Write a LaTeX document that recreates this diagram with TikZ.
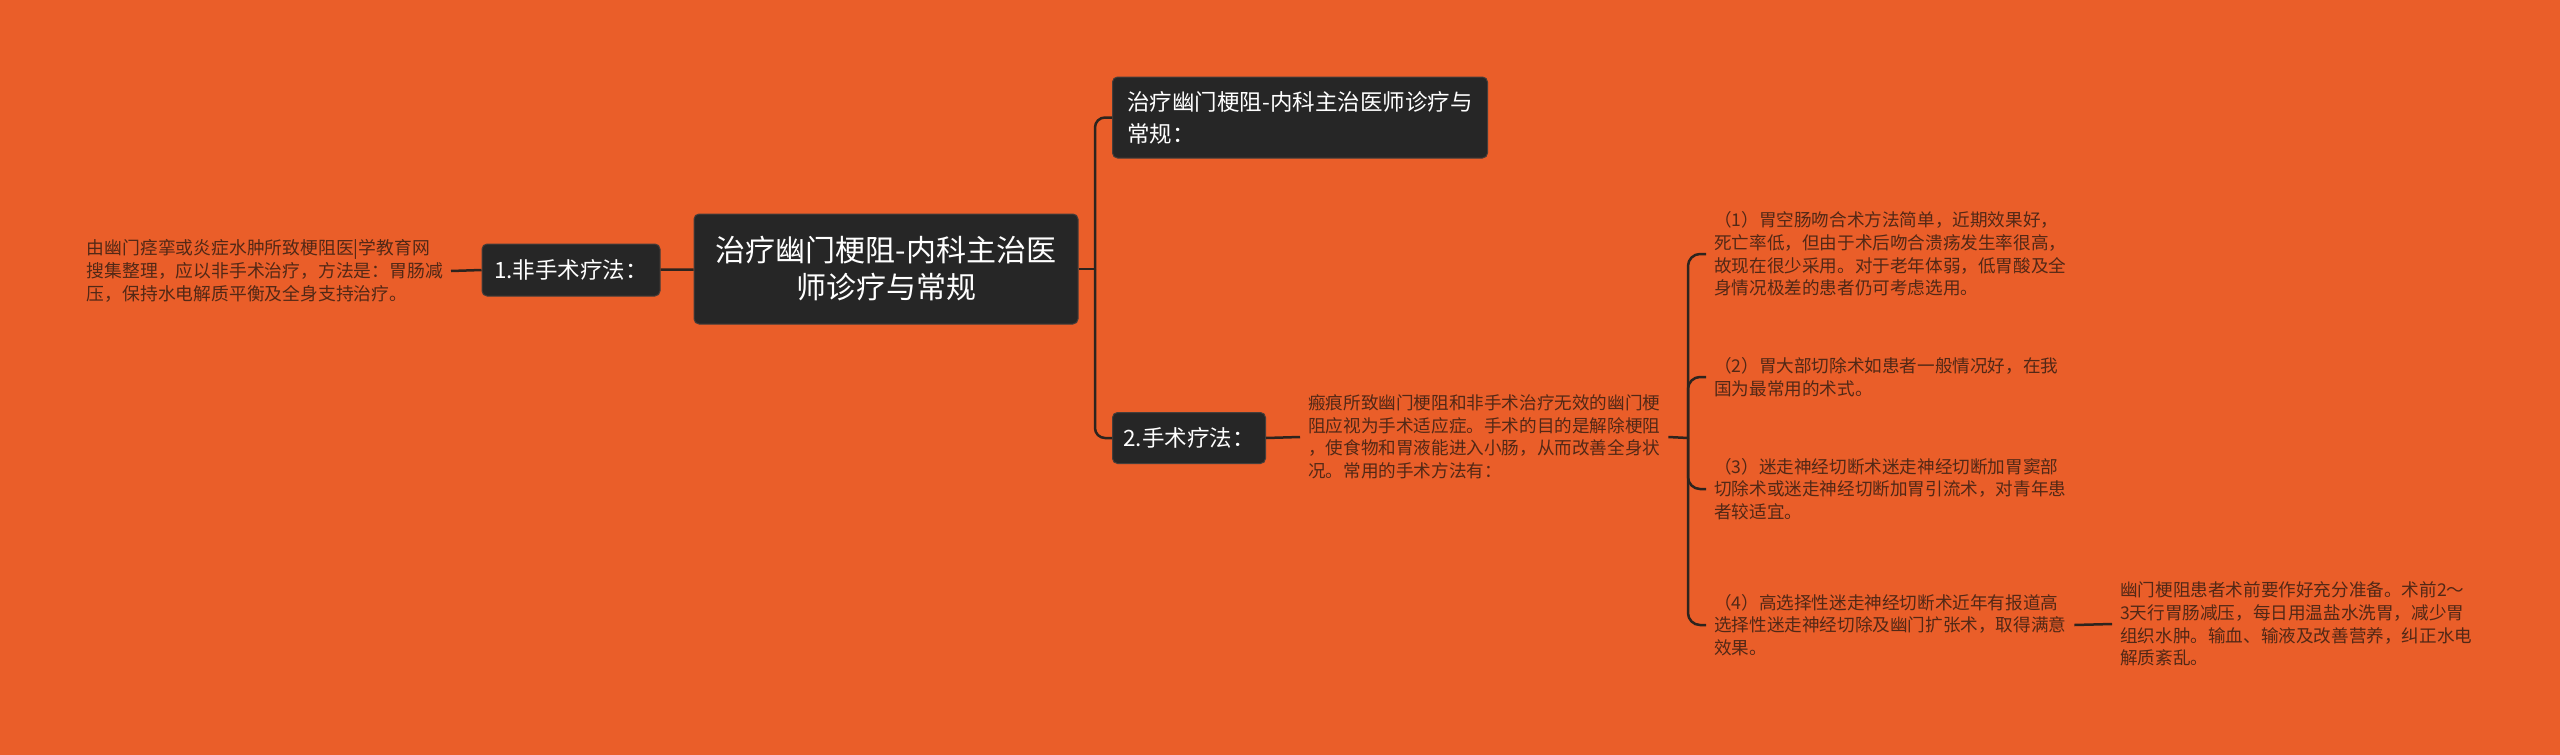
\documentclass[tikz,border=0pt]{standalone}
\usepackage{fontspec}
\setmainfont{Noto Sans CJK SC}
\usepackage{tikz}
\definecolor{bgorange}{RGB}{234,94,41}
\definecolor{boxdark}{RGB}{38,38,38}
\definecolor{boxedge}{RGB}{70,62,58}
\definecolor{linedark}{RGB}{45,36,30}
\definecolor{textbrown}{RGB}{82,40,22}

\begin{document}
\begin{tikzpicture}[x=1pt, y=-1pt,
    box/.style={fill=boxdark, draw=boxedge, line width=1pt, rounded corners=5pt, text=white, inner sep=0pt},
    note/.style={text=textbrown, align=left, inner xsep=8pt, inner ysep=0pt, font=\fontsize{17.6}{22.6}\selectfont},
    link/.style={draw=linedark, line width=2.5pt}]
            \fill[bgorange] (0, 0) rectangle (2560, 755);
            \useasboundingbox (0, 0) rectangle (2560, 755);
            \draw (886, 269) node[box, minimum width=384pt, minimum height=110pt, align=center, font=\fontsize{30}{37}\selectfont](root){治疗幽门梗阻-内科主治医\\师诊疗与常规};
            \draw (571, 270) node[box, minimum width=178pt, minimum height=52pt, font=\fontsize{22.5}{28}\selectfont](n1){1.非手术疗法：};
            \draw[link] (n1) -- (root);
            \draw (451, 271) node[note, anchor=east, font=\fontsize{17.8}{23}\selectfont](t0){由幽门痉挛或炎症水肿所致梗阻医|学教育网\\搜集整理，应以非手术治疗，方法是：胃肠减\\压，保持水电解质平衡及全身支持治疗。};
            \draw[link] (t0.east) -- (n1.west);
            \draw (1112, 117.5) node[box, anchor=west, minimum width=375pt, minimum height=81pt, align=left, font=\fontsize{22.5}{32}\selectfont](top){治疗幽门梗阻-内科主治医师诊疗与\\常规：};
            \draw (1112, 438) node[box, anchor=west, minimum width=153pt, minimum height=51pt, font=\fontsize{22.5}{28}\selectfont](n2){2.手术疗法：};
            \coordinate (fork) at (1095, 269);
            \draw[link] (root.east) -- (fork);
            \draw[link, rounded corners=10pt] (fork) |- (top.west);
            \draw[link, rounded corners=10pt] (fork) |- (n2.west);
            \draw (1300, 437) node[note, anchor=west](t2){瘢痕所致幽门梗阻和非手术治疗无效的幽门梗\\阻应视为手术适应症。手术的目的是解除梗阻\\，使食物和胃液能进入小肠，从而改善全身状\\况。常用的手术方法有：};
            \draw[link] (n2.east) -- (t2.west);
            \coordinate (brace) at (1688, 438);
            \draw[link] (t2.east) -- (brace);
            \draw (1706, 254) node[note, anchor=west](i1){（1）胃空肠吻合术方法简单，近期效果好，\\死亡率低，但由于术后吻合溃疡发生率很高，\\故现在很少采用。对于老年体弱，低胃酸及全\\身情况极差的患者仍可考虑选用。};
            \draw[link, rounded corners=12pt] (brace) |- (i1.west);
            \draw (1706, 377) node[note, anchor=west](i2){（2）胃大部切除术如患者一般情况好，在我\\国为最常用的术式。};
            \draw[link, rounded corners=12pt] (brace) |- (i2.west);
            \draw (1706, 489) node[note, anchor=west](i3){（3）迷走神经切断术迷走神经切断加胃窦部\\切除术或迷走神经切断加胃引流术，对青年患\\者较适宜。};
            \draw[link, rounded corners=12pt] (brace) |- (i3.west);
            \draw (1706, 625) node[note, anchor=west](i4){（4）高选择性迷走神经切断术近年有报道高\\选择性迷走神经切除及幽门扩张术，取得满意\\效果。};
            \draw[link, rounded corners=12pt] (brace) |- (i4.west);
            \draw (2112, 624) node[note, anchor=west](t5){幽门梗阻患者术前要作好充分准备。术前2～\\3天行胃肠减压，每日用温盐水洗胃，减少胃\\组织水肿。输血、输液及改善营养，纠正水电\\解质紊乱。};
            \draw[link] (i4.east) -- (t5.west);
        \end{tikzpicture}
\end{document}
